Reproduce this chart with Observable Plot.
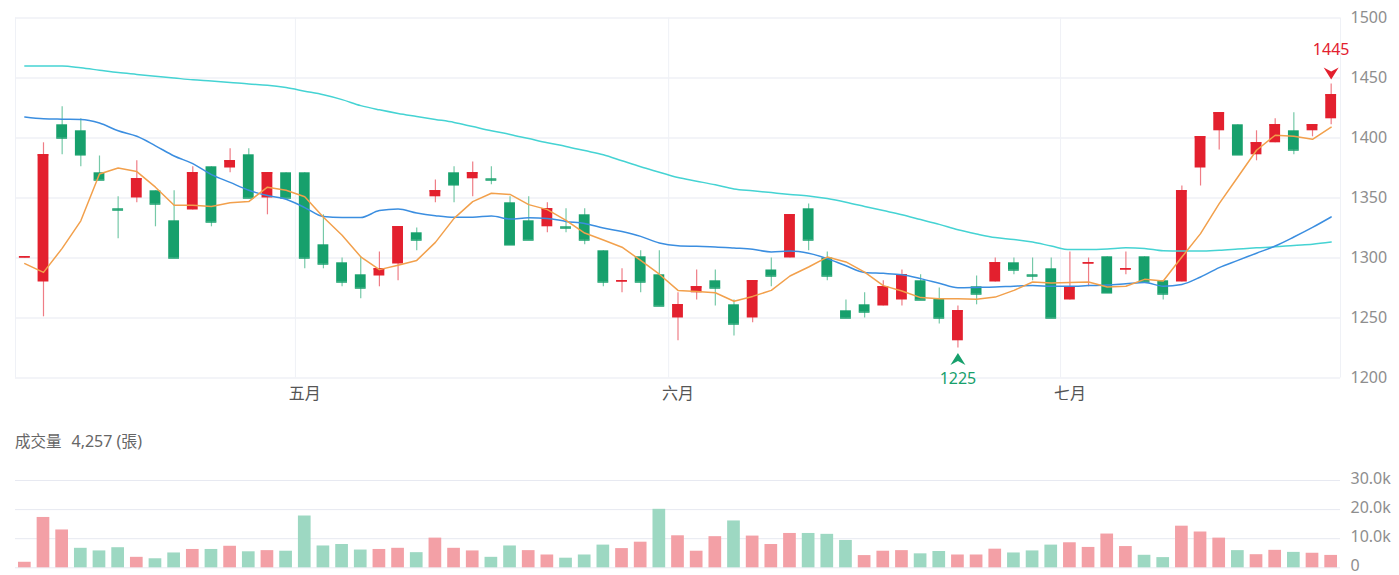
<!DOCTYPE html>
<html><head><meta charset="utf-8">
<script src="https://cdn.jsdelivr.net/npm/d3@7"></script>
<script src="https://cdn.jsdelivr.net/npm/@observablehq/plot@0.6"></script>
<style>
body{margin:0;background:#fff;font-family:"Noto Sans","Noto Sans CJK TC",sans-serif;}
#wrap{position:relative;width:1399px;height:575px;overflow:hidden;background:#fff;}
#price{position:absolute;left:0;top:0;}
#vollabel{position:absolute;left:15px;top:430px;font-size:15.5px;line-height:22px;color:#666;font-family:"Noto Sans","Noto Sans CJK TC",sans-serif;}
#vollabel span{margin-left:10px;font-size:16px;}
#volume{position:absolute;left:0;top:460px;}
</style></head><body>
<div id="wrap"><div id="price"></div><div id="vollabel">成交量<span id="vlast"></span></div><div id="volume"></div></div>
<script>
// ---- data ----
const opens  = [1300,1280,1411,1406,1371,1341,1350,1356,1331,1340,1376,1375,1386,1350,1371,1371,1311,1296,1286,1285,1295,1321,1351,1371,1366,1366,1346,1331,1326,1326,1336,1306,1280,1301,1286,1250,1271,1281,1261,1250,1290,1300,1341,1300,1256,1261,1260,1265,1281,1266,1231,1276,1280,1296,1286,1291,1265,1295,1301,1290,1301,1281,1280,1375,1406,1411,1386,1396,1406,1406,1416];
const highs  = [1301,1396,1426,1416,1385,1351,1381,1356,1356,1376,1376,1391,1391,1371,1371,1371,1336,1300,1301,1305,1326,1325,1365,1376,1380,1376,1351,1351,1346,1341,1341,1306,1291,1306,1306,1271,1290,1290,1265,1281,1300,1336,1345,1305,1265,1271,1281,1290,1286,1275,1260,1285,1300,1300,1300,1300,1305,1300,1301,1305,1301,1281,1360,1401,1421,1411,1406,1416,1421,1411,1445];
const lows   = [1300,1251,1386,1376,1365,1316,1346,1326,1300,1340,1326,1371,1350,1336,1350,1291,1291,1276,1266,1276,1281,1306,1346,1346,1351,1361,1311,1315,1321,1321,1311,1276,1271,1271,1260,1231,1265,1260,1235,1246,1276,1300,1306,1281,1250,1250,1260,1260,1265,1245,1225,1261,1280,1286,1281,1250,1265,1276,1271,1286,1280,1265,1280,1360,1390,1386,1381,1396,1386,1401,1411];
const closes = [1301,1386,1400,1386,1365,1340,1366,1345,1300,1371,1330,1381,1350,1371,1350,1300,1295,1280,1275,1291,1326,1315,1356,1361,1371,1365,1311,1315,1341,1325,1315,1280,1281,1280,1260,1261,1276,1275,1245,1281,1285,1336,1315,1285,1250,1255,1276,1286,1265,1250,1256,1270,1296,1290,1285,1250,1276,1296,1271,1291,1280,1270,1356,1401,1421,1386,1396,1411,1390,1411,1436];
const volumes = [1900,17300,13000,6700,5800,6900,3600,3100,5100,6300,6300,7400,5500,5900,5700,17800,7500,8000,6100,6300,6700,5200,10200,6700,5800,3600,7500,5900,4400,3300,4400,7800,6600,8800,20100,11000,5700,10700,16100,10900,8000,11800,11800,11500,9400,4200,5700,5900,4800,5600,4400,4400,6400,5100,5800,7800,8600,7000,11600,7300,4300,3500,14300,12300,10200,5900,4500,6000,5300,5000,4257];
// 1 = volume bar drawn as "up" (red), 0 = "down" (green)
const volUp = [1,1,1,0,0,0,1,0,0,1,0,1,0,1,0,0,0,0,0,1,1,0,1,1,1,0,0,1,1,0,0,0,1,1,0,1,1,1,0,1,1,1,0,0,0,1,1,1,0,0,1,1,1,0,0,0,1,1,1,1,0,0,1,1,1,0,1,1,0,1,1];
const ma5  = [1295.3,1288,1308,1331,1370,1375,1372,1359,1344,1344,1343,1346,1347,1359,1356.4,1351,1334,1319,1301,1290.3,1294,1298,1313,1333,1347,1354,1353,1344.5,1340.3,1331.4,1320.8,1315,1309,1298,1286.5,1273,1272,1271,1264,1268,1273,1285,1292.5,1300.8,1296.7,1288.3,1277,1272.5,1267,1266,1266,1265.6,1267.4,1273,1280,1279.2,1279.5,1280,1275.8,1276.4,1282.2,1280.8,1300.8,1320.3,1345.3,1367.5,1389.8,1402.3,1401.4,1398.9,1409];
const ma20 = [1417.5,1416,1415.7,1415.5,1412.5,1406,1401.4,1393.5,1385,1378.6,1369.5,1363,1356.5,1352,1349,1342,1334.5,1333.7,1333.7,1339.5,1340.8,1337.5,1335.3,1334,1334,1335,1332.5,1333.5,1333,1330.5,1328.8,1325,1322,1318,1312.5,1310.2,1309.7,1309.2,1308.3,1307.3,1305,1305.8,1304,1299.5,1293.5,1288,1287.2,1286,1282.8,1279,1275.3,1275.5,1275.8,1276.5,1277,1276.5,1276.4,1277,1277.5,1278.5,1279.5,1276.5,1278,1284.2,1292,1298,1304,1310,1317.5,1325.5,1334.2];
const ma60 = [1460,1460,1460,1458.5,1456.5,1454.5,1453,1451.5,1450,1448.5,1447.5,1446.3,1445,1444,1442,1439,1436,1432,1427,1423.5,1420.5,1418,1415.5,1413,1409.5,1406,1403,1399.5,1396,1393,1389.5,1386,1381,1376,1371.5,1367,1364,1361,1357.5,1356,1354.5,1353,1351.7,1349.5,1346.5,1343,1339.5,1336,1332,1328,1323.5,1320,1317,1315.5,1313.3,1310,1307,1307,1307.5,1308.5,1308,1306,1305.8,1305.8,1306.5,1307.5,1308.5,1309.3,1310.5,1311.5,1313.3];
const monthLabels = ["五月","六月","七月"];
const monthStartIdx = [15,35,56];
const priceTicks = [1200,1250,1300,1350,1400,1450,1500];
const volTicks = [0,10000,20000,30000];

// ---- styles ----
const RED = "#e3202e", GREEN = "#17a06c";
const RED_W = "#ef7d86", GREEN_W = "#76c9a8";
const VOL_RED = "#f3a0a6", VOL_GREEN = "#9dd8c2";
const GRID = "#e7e9f1", VGRID = "#eff1f6";
const FONT = '"Noto Sans","Noto Sans CJK TC",sans-serif';

const N = closes.length;
const days = d3.range(N).map(i => ({i, o: opens[i], h: highs[i], l: lows[i], c: closes[i],
  v: volumes[i], vu: volUp[i], m5: ma5[i], m20: ma20[i], m60: ma60[i]}));
const hiIdx = d3.maxIndex(highs), loIdx = d3.minIndex(lows);
const up = d => d.c >= d.o;

const arrowDown = {draw(ctx){ const w=15,h=12,n=4; ctx.moveTo(0,h/2); ctx.lineTo(-w/2,-h/2); ctx.lineTo(0,-h/2+n); ctx.lineTo(w/2,-h/2); ctx.closePath(); }};
const arrowUp = {draw(ctx){ const w=15,h=12,n=4; ctx.moveTo(0,-h/2); ctx.lineTo(-w/2,h/2); ctx.lineTo(0,h/2-n); ctx.lineTo(w/2,h/2); ctx.closePath(); }};

const price = Plot.plot({
  width: 1399, height: 410,
  marginLeft: 15, marginRight: 59, marginTop: 17.5, marginBottom: 32.5,
  x: {type: "linear", domain: [-0.5, N - 0.5], axis: null},
  y: {domain: [1200, 1500], axis: null},
  color: {type: "identity"},
  style: {fontFamily: FONT, fontSize: "16px", background: "transparent", overflow: "visible"},
  marks: [
    Plot.ruleY(priceTicks, {stroke: GRID, strokeWidth: 1}),
    Plot.ruleX(monthStartIdx, {x: d => d - 0.5, stroke: VGRID}),
    Plot.ruleX([-0.5, N - 0.5], {stroke: VGRID}),
    Plot.axisY(priceTicks, {anchor: "right", label: null, tickSize: 0, tickPadding: 10, fill: "#8e8e8e", fontSize: 16,
      tickFormat: d => String(d)}),
    Plot.axisX(monthStartIdx, {anchor: "bottom", label: null, tickSize: 0, tickPadding: 10, fill: "#555", fontSize: 16,
      tickFormat: d => monthLabels[monthStartIdx.indexOf(d)]}),
    Plot.ruleX(days, {x: "i", y1: "l", y2: "h", stroke: d => up(d) ? RED_W : GREEN_W, strokeWidth: 1.2}),
    Plot.rect(days, {x1: d => d.i - 0.29, x2: d => d.i + 0.29, y1: d => Math.min(d.o, d.c), y2: d => Math.max(d.o, d.c),
      fill: d => up(d) ? RED : GREEN}),
    Plot.ruleY(days, {x1: d => d.i - 0.29, x2: d => d.i + 0.29, y: "c", stroke: d => up(d) ? RED : GREEN, strokeWidth: 1.5}),
    Plot.line(days, {x: "i", y: "m60", stroke: "#45d3d3", strokeWidth: 1.5, curve: "monotone-x"}),
    Plot.line(days, {x: "i", y: "m20", stroke: "#3b8ee0", strokeWidth: 1.5, curve: "monotone-x"}),
    Plot.line(days, {x: "i", y: "m5", stroke: "#f2a04c", strokeWidth: 1.5}),
    Plot.dot([days[hiIdx]], {x: "i", y: "h", symbol: arrowDown, fill: RED, stroke: "none", r: 7, dy: -10.5}),
    Plot.text([days[hiIdx]], {x: "i", y: "h", text: d => String(d.h), fill: RED, fontSize: 16, dy: -34.5}),
    Plot.dot([days[loIdx]], {x: "i", y: "l", symbol: arrowUp, fill: GREEN, stroke: "none", r: 7, dy: 11}),
    Plot.text([days[loIdx]], {x: "i", y: "l", text: d => String(d.l), fill: GREEN, fontSize: 16, dy: 31})
  ]
});
document.getElementById("price").appendChild(price);

document.getElementById("vlast").textContent = d3.format(",")(volumes[N - 1]) + " (張)";

const vol = Plot.plot({
  width: 1399, height: 115,
  marginLeft: 15, marginRight: 59, marginTop: 20, marginBottom: 7.7,
  x: {type: "linear", domain: [-0.5, N - 0.5], axis: null},
  y: {domain: [0, 30000], axis: null},
  color: {type: "identity"},
  style: {fontFamily: FONT, fontSize: "16px", background: "transparent", overflow: "visible"},
  marks: [
    Plot.ruleY(volTicks, {stroke: GRID}),
    Plot.axisY(volTicks, {anchor: "right", label: null, tickSize: 0, tickPadding: 10, fill: "#8e8e8e", fontSize: 16, dy: -2,
      tickFormat: v => v === 0 ? "0" : (v / 1000).toFixed(1) + "k"}),
    Plot.rectY(days, {x1: d => d.i - 0.34, x2: d => d.i + 0.34, y: "v", fill: d => d.vu ? VOL_RED : VOL_GREEN})
  ]
});
document.getElementById("volume").appendChild(vol);
</script>
</body></html>
